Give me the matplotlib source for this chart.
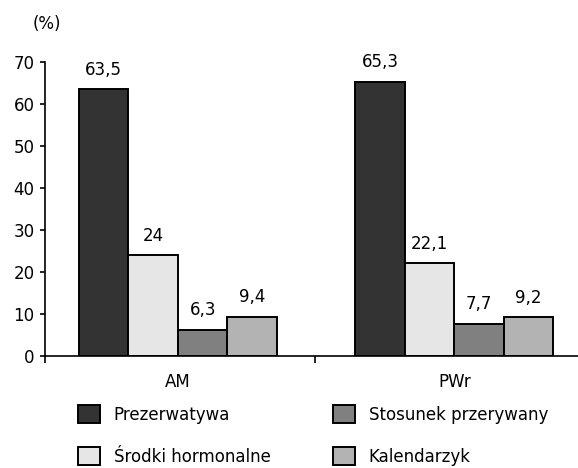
import matplotlib.pyplot as plt
import numpy as np

plt.rcParams['font.family'] = ['DejaVu Sans']

groups = ['AM', 'PWr']
methods = ['Prezerwatywa', 'Środki hormonalne', 'Stosunek przerywany', 'Kalendarzyk']
values = [
    [63.5, 65.3],
    [24, 22.1],
    [6.3, 7.7],
    [9.4, 9.2],
]
labels = [
    ['63,5', '65,3'],
    ['24', '22,1'],
    ['6,3', '7,7'],
    ['9,4', '9,2'],
]
colors = ['#333333', '#e6e6e6', '#808080', '#b3b3b3']

fig = plt.figure(figsize=(5.78, 4.68), dpi=100)
ax = fig.add_axes([45/578, 1 - 356/468, 1 - 45/578, (356 - 62)/468])

x = np.arange(len(groups))
w = 0.179
bars = []
for i in range(len(methods)):
    pos = x + (i - 1.5) * w
    b = ax.bar(pos, values[i], width=w, color=colors[i], edgecolor='black',
               linewidth=1.4, label=methods[i])
    bars.append(b)
    for xp, v, t in zip(pos, values[i], labels[i]):
        ax.text(xp, v + 3.4, t, ha='center', va='baseline', fontsize=12)

ax.set_ylim(0, 70)
ax.set_yticks(range(0, 71, 10))
ax.set_xlim(-0.481, 1.447)
ax.set_xticks([-0.481, 0.495])
ax.set_xticklabels([])
ax.set_xticks(x, minor=True)
ax.set_xticklabels(groups, minor=True, fontsize=12)
ax.tick_params(axis='x', which='minor', length=0, pad=12)
ax.tick_params(axis='x', which='major', length=5, width=1.2, direction='out')
ax.tick_params(axis='y', length=3.5, width=1.2, labelsize=12, pad=4)
for s in ['top', 'right']:
    ax.spines[s].set_visible(False)
for s in ['left', 'bottom']:
    ax.spines[s].set_linewidth(1.2)

fig.text(33/578, 1 - 24/468, '(%)', fontsize=12, va='center', ha='left')

leg_kw = dict(frameon=False, fontsize=12, handlelength=1.3, handleheight=1.3,
              labelspacing=1.4, handletextpad=0.85, borderpad=0, borderaxespad=0,
              loc='upper left')
fig.legend([bars[0], bars[1]], [methods[0], methods[1]],
           bbox_to_anchor=(78/578, 1 - 405/468), **leg_kw)
fig.legend([bars[2], bars[3]], [methods[2], methods[3]],
           bbox_to_anchor=(333/578, 1 - 405/468), **leg_kw)

fig.savefig('out.png', dpi=100)
